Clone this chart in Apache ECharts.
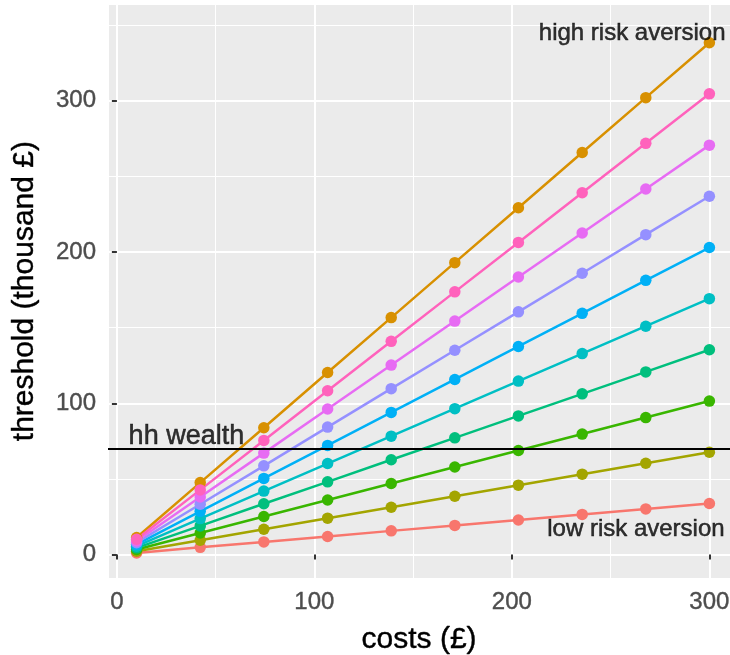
<!DOCTYPE html>
<html><head><meta charset="utf-8">
<script src="https://cdn.jsdelivr.net/npm/echarts@6/dist/echarts.min.js"></script>
<style>html,body{margin:0;padding:0;background:#fff}#c{width:730px;height:655px}</style>
</head><body><div id="c"></div>
<script>
// ---- data ----
const costs = [10, 42.2, 74.4, 106.7, 138.9, 171.1, 203.3, 235.6, 267.8, 300];
const ra1  = [1.1, 4.8, 8.4, 12.0, 15.7, 19.3, 22.9, 26.6, 30.2, 33.8];
const ra2  = [2.3, 9.5, 16.8, 24.1, 31.3, 38.6, 45.9, 53.2, 60.4, 67.7];
const ra3  = [3.4, 14.3, 25.2, 36.1, 47.0, 57.9, 68.8, 79.7, 90.6, 101.5];
const ra4  = [4.5, 19.0, 33.6, 48.1, 62.7, 77.2, 91.7, 106.3, 120.8, 135.4];
const ra5  = [5.6, 23.8, 42.0, 60.2, 78.3, 96.5, 114.7, 132.9, 151.0, 169.2];
const ra6  = [6.8, 28.6, 50.4, 72.2, 94.0, 115.8, 137.6, 159.5, 181.3, 203.0];
const ra7  = [7.9, 33.3, 58.7, 84.3, 109.7, 135.1, 160.5, 186.0, 211.5, 236.9];
const ra8  = [9.0, 38.1, 67.1, 96.3, 125.3, 154.4, 183.5, 212.6, 241.7, 270.7];
const ra9  = [10.2, 42.8, 75.5, 108.3, 141.0, 173.7, 206.4, 239.2, 271.9, 304.6];
const ra10 = [11.3, 47.6, 83.9, 120.4, 156.7, 193.0, 229.3, 265.8, 302.1, 338.4];
// factor-level order as drawn (1,10,2..9)
const levels = ['1', '10', '2', '3', '4', '5', '6', '7', '8', '9'];
const levelValues = [ra1, ra10, ra2, ra3, ra4, ra5, ra6, ra7, ra8, ra9];
const levelColors = ['#F8766D', '#D89000', '#A3A500', '#39B600', '#00BF7D', '#00BFC4', '#00B0F6', '#9590FF', '#E76BF3', '#FF62BC'];
const wealth = 70;
const xTicks = [0, 100, 200, 300];
const yTicks = [0, 100, 200, 300];
const annoText = ['hh wealth', 'high risk aversion', 'low risk aversion'];
const annoX = [35.2, 260.9, 262.8];
const annoY = [78, 344.7, 16.9];

// ---- chart ----
const FONT = 'Liberation Sans, Arial, sans-serif';
const chart = echarts.init(document.getElementById('c'), null, {renderer: 'canvas'});
const XMIN = -4.5, XMAX = 310.5, YMIN = -15.6, YMAX = 364;

const lineSeries = levels.map((lv, i) => ({
  type: 'line', name: 'ra' + lv, xAxisIndex: 0, yAxisIndex: 0,
  data: costs.map((c, j) => [c, levelValues[i][j]]),
  showSymbol: false, symbol: 'none', animation: false, z: 3,
  lineStyle: {color: levelColors[i], width: 2.5}
}));
const pointSeries = levels.map((lv, i) => ({
  type: 'scatter', name: 'pt' + lv, xAxisIndex: 0, yAxisIndex: 0,
  data: costs.map((c, j) => [c, levelValues[i][j]]),
  symbol: 'circle', symbolSize: 11.5, animation: false, z: 4,
  itemStyle: {color: levelColors[i], opacity: 1}
}));
const sizes = [27, 24, 24];
const annoSeries = {
  type: 'scatter', xAxisIndex: 0, yAxisIndex: 0, symbolSize: 0, z: 6, animation: false,
  silent: true,
  data: annoText.map((t, i) => ({
    value: [annoX[i], annoY[i]], name: t,
    label: {show: true, position: 'inside', formatter: t, color: '#000',
      textBorderColor: '#000', textBorderWidth: 0.5,
      fontSize: sizes[i], fontFamily: FONT, align: 'center', verticalAlign: 'middle'}
  }))
};
const hline = {
  type: 'line', xAxisIndex: 0, yAxisIndex: 0, data: [], z: 5, animation: false,
  markLine: {silent: true, symbol: ['none', 'none'], animation: false,
    label: {show: false},
    lineStyle: {color: '#000', width: 2, type: 'solid'},
    data: [{yAxis: wealth}]}
};
const tickText = {fontSize: 24, color: '#4D4D4D', fontFamily: FONT, margin: 12,
  textBorderColor: '#4D4D4D', textBorderWidth: 0.4};
const titleText = {fontSize: 30, color: '#000', fontFamily: FONT,
  textBorderColor: '#000', textBorderWidth: 0.4};

chart.setOption({
  backgroundColor: '#fff',
  animation: false,
  grid: {left: 108, top: 4, width: (XMAX - XMIN) * 1.975, height: (YMAX - YMIN) * 1.5127,
    show: true, backgroundColor: '#EBEBEB', borderWidth: 0, containLabel: false,
    outerBoundsMode: 'none'},
  xAxis: [
    {type: 'value', min: XMIN, max: XMAX, splitNumber: 3, position: 'bottom',
      axisLine: {show: false},
      axisTick: {show: true, customValues: xTicks, length: 5, lineStyle: {color: '#333', width: 2}},
      axisLabel: Object.assign({customValues: xTicks}, tickText),
      splitLine: {show: true, lineStyle: {color: '#fff', width: 2}},
      name: 'costs (£)', nameLocation: 'middle', nameGap: 47,
      nameTextStyle: titleText, z: 1},
    {type: 'value', min: XMIN, max: XMAX, splitNumber: 6, position: 'bottom',
      axisLine: {show: false}, axisTick: {show: false}, axisLabel: {show: false},
      splitLine: {show: true, lineStyle: {color: '#fff', width: 1}}, z: 0}
  ],
  yAxis: [
    {type: 'value', min: YMIN, max: YMAX, splitNumber: 4, position: 'left',
      axisLine: {show: false},
      axisTick: {show: true, customValues: yTicks, length: 5, lineStyle: {color: '#333', width: 2}},
      axisLabel: Object.assign({customValues: yTicks}, tickText),
      splitLine: {show: true, lineStyle: {color: '#fff', width: 2}},
      name: 'threshold (thousand £)', nameLocation: 'middle', nameGap: 68,
      nameTextStyle: titleText, z: 1},
    {type: 'value', min: YMIN, max: YMAX, splitNumber: 8, position: 'left',
      axisLine: {show: false}, axisTick: {show: false}, axisLabel: {show: false},
      splitLine: {show: true, lineStyle: {color: '#fff', width: 1}}, z: 0}
  ],
  series: [...lineSeries, hline, ...pointSeries, annoSeries]
});
</script></body></html>
